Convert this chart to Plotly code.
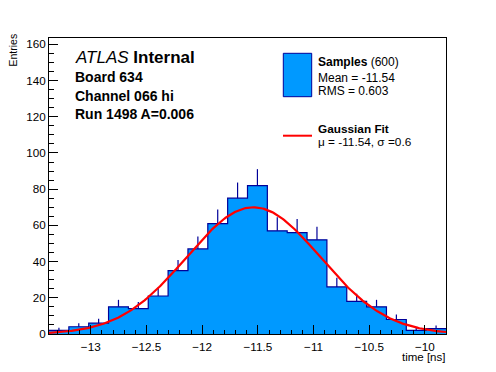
import numpy as np
import plotly.graph_objects as go

# ---- data ----
bin_lo = -13.375
bin_hi = -9.811
n_bins = 20
counts = [2, 4, 6, 15, 14, 21, 35, 47, 61, 75, 82, 57, 56, 52, 26, 18, 15, 8, 2, 3]
fit_mu = -11.54
fit_sigma = 0.6
fit_amp = 70.0
x_range = [bin_lo, bin_hi]
y_range = [0, 163.5]

title_lines = ["<i>ATLAS</i> <b>Internal</b>", "<b>Board 634</b>", "<b>Channel 066 hi</b>", "<b>Run 1498 A=0.006</b>"]
legend_samples = ["<b>Samples</b> (600)", "Mean = -11.54", "RMS = 0.603"]
legend_fit = ["<b>Gaussian Fit</b>", "μ = -11.54, σ =0.6"]

FILL = "#0099ff"
EDGE = "#000099"
FONT = "Liberation Sans, Arial, sans-serif"

edges = np.linspace(bin_lo, bin_hi, n_bins + 1)
centers = 0.5 * (edges[:-1] + edges[1:])
errs = np.sqrt(np.array(counts, dtype=float))

fig = go.Figure()
# filled step histogram
fig.add_trace(go.Scatter(
    x=list(edges), y=counts + [counts[-1]],
    mode="lines", line=dict(shape="hv", color=EDGE, width=1.2),
    fill="tozeroy", fillcolor=FILL, hoverinfo="skip"))
# upward error bars
fig.add_trace(go.Scatter(
    x=centers, y=counts, mode="markers",
    marker=dict(size=1, color="rgba(0,0,0,0)"),
    error_y=dict(type="data", symmetric=False, array=errs,
                 arrayminus=np.zeros(n_bins), width=0, color=EDGE, thickness=1.2)))
# gaussian fit curve
xf = np.linspace(bin_lo, bin_hi, 300)
yf = fit_amp * np.exp(-0.5 * ((xf - fit_mu) / fit_sigma) ** 2)
fig.add_trace(go.Scatter(x=xf, y=yf, mode="lines", line=dict(color="#ff0000", width=2.2)))

# pixel -> paper helpers (plot area 49..446 x, 38..334 y)
L, R, T, B = 49, 446, 38, 334
def px(x):
    return (x - L) / (R - L)
def py(y):
    return (B - y) / (B - T)

ann = []
def text(x, y, s, size, xanchor="left", angle=0):
    ann.append(dict(x=px(x), y=py(y), xref="paper", yref="paper", text=s,
                    showarrow=False, xanchor=xanchor, yanchor="middle", borderpad=0,
                    textangle=angle, font=dict(family=FONT, size=size, color="black")))

text(74, 57.5, title_lines[0], 17)
text(74, 76.7, title_lines[1], 14)
text(74, 95.7, title_lines[2], 14)
text(74, 113.5, title_lines[3], 14)

text(317, 62, legend_samples[0], 12)
text(317, 77.5, legend_samples[1], 12)
text(317, 90.5, legend_samples[2], 12)
text(317, 129, legend_fit[0], 11.8)
text(317, 142, legend_fit[1], 11.8)

text(446, 357, "time [ns]", 11.5, xanchor="right")
text(12.5, 50, "Entries", 10.5, xanchor="center", angle=-90)

shapes = [
    dict(type="rect", xref="paper", yref="paper", x0=px(283.3), x1=px(311.7),
         y0=py(96.7), y1=py(53.3), fillcolor=FILL, line=dict(color=EDGE, width=1)),
    dict(type="line", xref="paper", yref="paper", x0=px(283), x1=px(312),
         y0=py(135.7), y1=py(135.7), line=dict(color="#ff0000", width=2)),
]

axis_common = dict(showgrid=False, zeroline=False, showline=True, mirror=True,
                   linecolor="black", linewidth=1, ticks="inside", ticklen=9,
                   tickwidth=1, tickcolor="black",
                   tickfont=dict(family=FONT, size=11.7, color="black"))

fig.update_layout(
    width=496, height=372,
    margin=dict(l=L, r=496 - R, t=T, b=372 - B),
    paper_bgcolor="white", plot_bgcolor="white",
    showlegend=False,
    annotations=ann, shapes=shapes,
    xaxis=dict(range=x_range, tick0=-13, dtick=0.5, ticklabelstandoff=2,
               minor=dict(dtick=0.1, ticks="inside", ticklen=4.5, tickcolor="black", showgrid=False),
               **axis_common),
    yaxis=dict(range=y_range, tick0=0, dtick=20,
               minor=dict(dtick=5, ticks="inside", ticklen=4.5, tickcolor="black", showgrid=False),
               **axis_common),
)

fig.write_html("out.html", config={"displayModeBar": False},
               post_script="document.body.style.margin='0';document.body.style.overflow='hidden';")
